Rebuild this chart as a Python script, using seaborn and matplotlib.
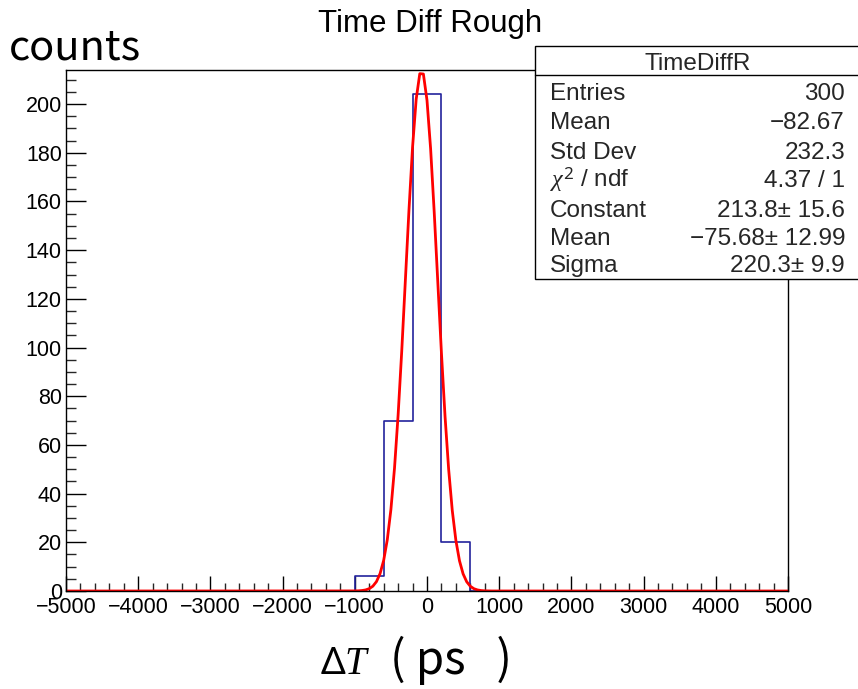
import numpy as np
import pandas as pd
import matplotlib
matplotlib.use("Agg")
import matplotlib.pyplot as plt
import seaborn as sns
from matplotlib.patches import Rectangle
from matplotlib.lines import Line2D
from matplotlib.ticker import MultipleLocator

# ---------------- data ----------------
x_range = [-5000, 5000]
bin_width = 400
filled_bin_left_edges = [-1000, -600, -200, 200]
filled_bin_counts = [6, 70, 204, 20]

fit_constant = 213.8
fit_mean = -75.68
fit_sigma = 220.3

stat_labels = ["Entries", "Mean", "Std Dev", r"$\chi^{2}$ / ndf", "Constant", "Mean", "Sigma"]
stat_values = ["300", "\u221282.67", "232.3", "4.37 / 1", "213.8\u00b1 15.6",
               "\u221275.68\u00b1 12.99", "220.3\u00b1 9.9"]
stats_title = "TimeDiffR"
title_text = "Time Diff Rough"

# ---------------- build histogram table ----------------
n_bins = int((x_range[1] - x_range[0]) / bin_width)
edges = x_range[0] + bin_width * np.arange(n_bins + 1)
centers = edges[:-1] + bin_width / 2
counts = np.zeros(len(centers))
for le, c in zip(filled_bin_left_edges, filled_bin_counts):
    counts[int(round((le - x_range[0]) / bin_width))] = c
hist_df = pd.DataFrame({"dt": centers, "n": counts})

fit_x = np.linspace(x_range[0], x_range[1], 201)
fit_df = pd.DataFrame({"dt": fit_x,
                       "y": fit_constant * np.exp(-0.5 * ((fit_x - fit_mean) / fit_sigma) ** 2)})

# ---------------- figure ----------------
sns.set_theme(style="white")
plt.rcParams["font.family"] = ["Liberation Sans", "DejaVu Sans"]
plt.rcParams["mathtext.fontset"] = "custom"
plt.rcParams["mathtext.rm"] = "Noto Sans"
plt.rcParams["mathtext.it"] = "Liberation Serif:italic"
plt.rcParams["mathtext.bf"] = "Noto Sans:bold"

W, H = 858, 689
fig = plt.figure(figsize=(W / 100, H / 100), dpi=100)
fig.patch.set_facecolor("white")
ax = fig.add_axes([66 / W, 1 - 591 / H, (788 - 66) / W, (591 - 70) / H])
ax.set_facecolor("white")

sns.histplot(data=hist_df, x="dt", weights="n", bins=n_bins, binrange=tuple(x_range),
             element="step", fill=False, color="#22229c", linewidth=1.2, ax=ax)
sns.lineplot(data=fit_df, x="dt", y="y", color="#ff0000", linewidth=2.0, ax=ax, sort=False)

ax.set_xlim(*x_range)
ax.set_ylim(0, 214)
ax.set_xlabel("")
ax.set_ylabel("")

ax.xaxis.set_major_locator(MultipleLocator(1000))
ax.xaxis.set_minor_locator(MultipleLocator(200))
ax.yaxis.set_major_locator(MultipleLocator(20))
ax.yaxis.set_minor_locator(MultipleLocator(5))
ax.tick_params(axis="x", which="major", direction="in", length=11, width=1.0, labelsize=15.5,
               pad=4, top=False, bottom=True, colors="black")
ax.tick_params(axis="x", which="minor", direction="in", length=5.5, width=1.0, top=False, bottom=True)
ax.tick_params(axis="y", which="major", direction="in", length=14.5, width=1.0, labelsize=15.5,
               pad=3, left=True, right=False, colors="black")
ax.tick_params(axis="y", which="minor", direction="in", length=7.2, width=1.0, left=True, right=False)
for s in ax.spines.values():
    s.set_color("black")
    s.set_linewidth(1.0)

# ---------------- texts ----------------
def fx(px):
    return px / W

def fy(py):
    return 1 - py / H

cjk = ["Noto Sans CJK SC", "DejaVu Sans"]
fig.text(fx(430), fy(32), title_text, ha="center", va="baseline", fontsize=22.5, color="black")
fig.text(fx(9), fy(60), "counts", ha="left", va="baseline", fontsize=30, family=cjk, color="black")
fig.text(fx(320), fy(674), r"$\Delta T$", ha="left", va="baseline", fontsize=28, color="black")
fig.text(fx(390), fy(674), "( ps   )", ha="left", va="baseline", fontsize=33, family=cjk,
         color="black")

# stats box
box = Rectangle((fx(535), fy(279)), fx(900) - fx(535), fy(46) - fy(279), transform=fig.transFigure,
                facecolor="white", edgecolor="black", linewidth=1.0, zorder=10)
fig.add_artist(box)
fig.add_artist(Line2D([fx(535), fx(900)], [fy(75), fy(75)], transform=fig.transFigure,
                      color="black", linewidth=1.0, zorder=11))
fig.text(fx(698), fy(70), stats_title, ha="center", va="baseline", fontsize=17.5, zorder=12)
row_base = [100, 129, 159, 187, 217, 245, 272]
for lab, val, yy in zip(stat_labels, stat_values, row_base):
    fig.text(fx(550), fy(yy), lab, ha="left", va="baseline", fontsize=17.5, zorder=12)
    fig.text(fx(845), fy(yy), val, ha="right", va="baseline", fontsize=17.5, zorder=12)

fig.savefig("out.png", dpi=100, facecolor="white")
